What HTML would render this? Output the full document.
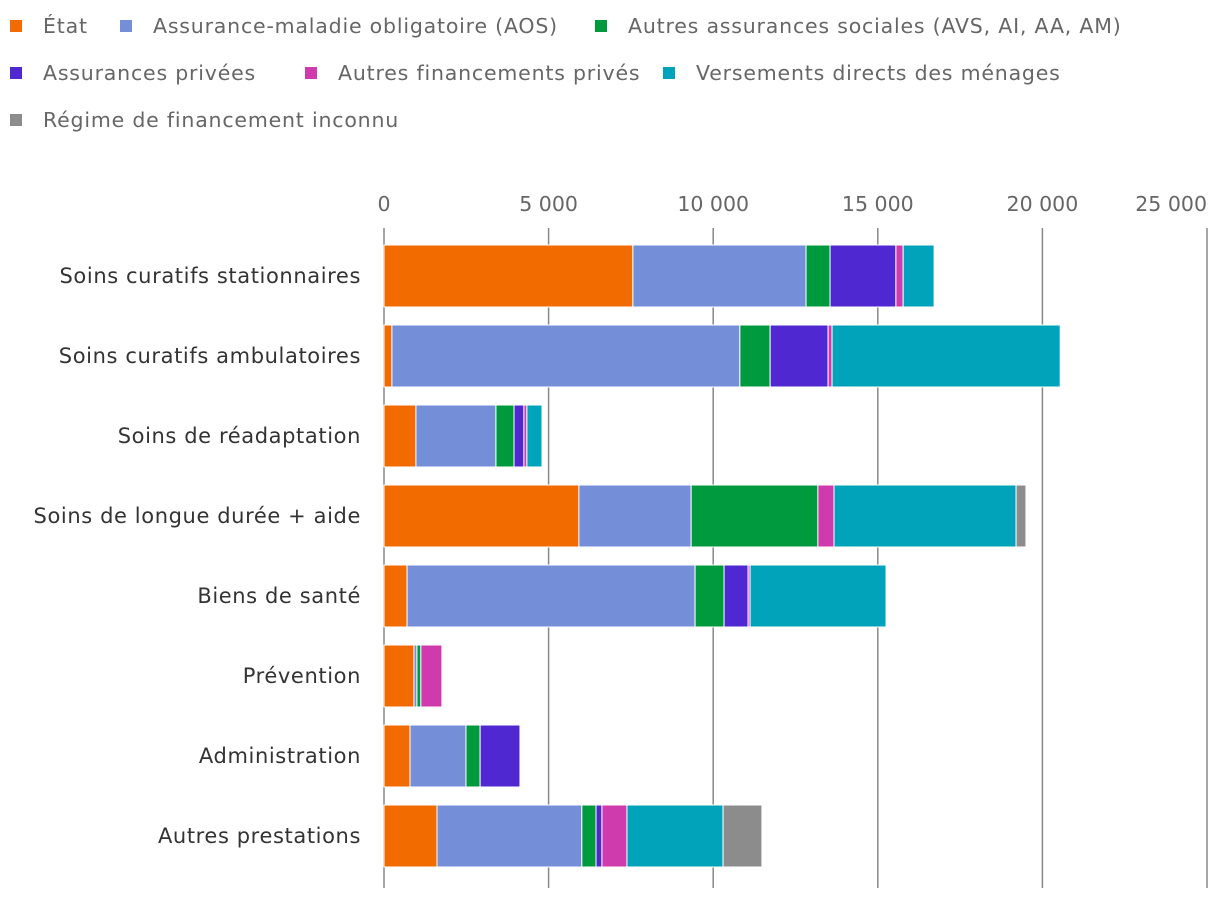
<!DOCTYPE html>
<html><head><meta charset="utf-8"><style>
body{margin:0;background:#fff;font-family:"DejaVu Sans",sans-serif;}
svg{display:block}
</style></head><body>
<svg id="c" width="1220" height="898" font-family="DejaVu Sans, sans-serif"></svg>
<script>
const categories=["Soins curatifs stationnaires","Soins curatifs ambulatoires","Soins de réadaptation","Soins de longue durée + aide","Biens de santé","Prévention","Administration","Autres prestations"];
const seriesNames=["État","Assurance-maladie obligatoire (AOS)","Autres assurances sociales (AVS, AI, AA, AM)","Assurances privées","Autres financements privés","Versements directs des ménages","Régime de financement inconnu"];
const colors=["#f26b00","#748ed8","#009a3e","#5028d2","#cf3aad","#00a3ba","#8c8c8c"];
const etat=[7560,240,970,5920,700,910,790,1610];
const aos=[5260,10570,2430,3410,8750,90,1700,4400];
const autresSoc=[730,920,550,3850,880,120,430,430];
const privees=[2000,1760,300,0,730,0,1210,180];
const autresPriv=[220,120,90,490,60,640,0,760];
const menages=[940,6930,460,5530,4130,0,0,2920];
const inconnu=[0,0,0,300,0,0,0,1180];
const series=[etat,aos,autresSoc,privees,autresPriv,menages,inconnu];
const ticks=[0,5000,10000,15000,20000,25000];
const tickLabels=["0","5 000","10 000","15 000","20 000","25 000"];
const svg=document.getElementById('c');const NS="http://www.w3.org/2000/svg";
const x0=384,pxPer=164.6/5000;const X=v=>x0+v*pxPer;
const Y=i=>276+i*80;
function mk(t,a){const e=document.createElementNS(NS,t);for(const k in a)e.setAttribute(k,a[k]);svg.appendChild(e);return e;}
const legPos=[[10,26],[120,26],[595,26],[10,73],[305,73],[663,73],[10,120]];
seriesNames.forEach((n,i)=>{const [lx,ly]=legPos[i];
const r=mk('rect',{x:lx,y:ly-6,width:12,height:12,fill:colors[i]});


const t=mk('text',{x:lx+33,y:ly+7,'font-size':20.5,'letter-spacing':0.8,fill:'#666'});t.textContent=n;

});
ticks.forEach((v,i)=>{const g=mk('line',{x1:X(v),x2:X(v),y1:228,y2:888,stroke:'#888','stroke-width':1.5});


const last=i===ticks.length-1;
const t=mk('text',{x:X(v),y:211,'font-size':20.5,fill:'#666','text-anchor':last?'end':'middle'});t.textContent=tickLabels[i];

});
categories.forEach((c,i)=>{const t=mk('text',{x:361,y:Y(i)+7,'font-size':21,'letter-spacing':0.6,fill:'#333','text-anchor':'end'});t.textContent=c;


let cum=0;series.forEach((s,j)=>{const v=s[i];if(v>0){const r=mk('rect',{x:X(cum),y:Y(i)-31,width:X(cum+v)-X(cum),height:62,fill:colors[j],stroke:'#fff','stroke-width':1});

}cum+=v;});});
</script>
</body></html>
